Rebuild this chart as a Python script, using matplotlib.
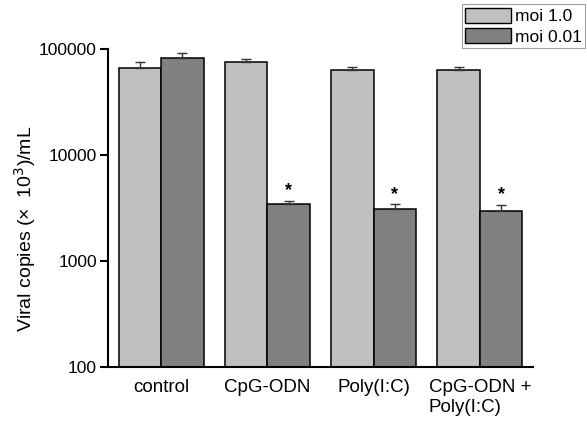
import numpy as np
import matplotlib.pyplot as plt
from matplotlib.patches import Patch

plt.rcParams['font.family'] = ['Liberation Sans', 'DejaVu Sans']

# Werte
groups = ['control', 'CpG-ODN', 'Poly(I:C)', 'CpG-ODN +\nPoly(I:C)']
moi_1 = [66700, 75000, 63000, 63000]
moi_1_err = [8700, 5500, 5100, 4600]
moi_001 = [82300, 3440, 3080, 2970]
moi_001_err = [10000, 280, 360, 420]
signif = [False, True, True, True]

yticks = [100, 1000, 10000, 100000]
yticklabels = ['100', '1000', '10000', '100000']

fig = plt.figure(figsize=(5.87, 4.25), dpi=100)
ax = fig.add_axes([0.184, 0.1365, 0.724, 0.748])

x = np.arange(len(groups))
w = 0.40
err_kw = dict(ecolor='#333333', elinewidth=1.0, capsize=3.6, capthick=1.0)

ax.bar(x - w / 2, moi_1, w, color='#c0c0c0', edgecolor='black', linewidth=1.1,
       yerr=[np.zeros(4), moi_1_err], error_kw=err_kw, label='moi 1.0')
ax.bar(x + w / 2, moi_001, w, color='#808080', edgecolor='black', linewidth=1.1,
       yerr=[np.zeros(4), moi_001_err], error_kw=err_kw, label='moi 0.01')

for i in range(len(groups)):
    if signif[i]:
        top = moi_001[i] + moi_001_err[i]
        ax.text(x[i] + w / 2, top * 1.03, '*', ha='center', va='bottom',
                fontsize=13, fontweight='bold')

ax.set_yscale('log')
ax.set_ylim(100, 100000)
ax.set_xlim(-0.5, 3.5)
ax.set_yticks(yticks)
ax.set_yticklabels(yticklabels)
ax.yaxis.set_minor_locator(plt.NullLocator())
ax.set_xticks(x)
ax.set_xticklabels(groups, multialignment='left')
ax.tick_params(axis='x', length=0, pad=9, labelsize=13.5)
ax.tick_params(axis='y', length=6, width=1.5, direction='out', pad=2, labelsize=12.5)

# Achsentitel als freier Text, damit er wie im Original sitzt
fig.text(25 / 587, 1 - 229 / 425, 'Viral copies (×  10$^3$)/mL', rotation=90,
         ha='center', va='center', fontsize=14)

for s in ['top', 'right']:
    ax.spines[s].set_visible(False)
for s in ['left', 'bottom']:
    ax.spines[s].set_linewidth(1.5)

handles = [Patch(facecolor='#c0c0c0', edgecolor='black', linewidth=1.0, label='moi 1.0'),
           Patch(facecolor='#808080', edgecolor='black', linewidth=1.0, label='moi 0.01')]
leg = fig.legend(handles=handles, loc='upper right', bbox_to_anchor=(0.997, 0.99),
                 fontsize=12.5, frameon=True, fancybox=False, edgecolor='#888888',
                 borderpad=0.2, labelspacing=0.2, handlelength=2.6, handleheight=1.0,
                 handletextpad=0.25, borderaxespad=0)
leg.get_frame().set_linewidth(0.8)

fig.savefig('out.png', dpi=100)
